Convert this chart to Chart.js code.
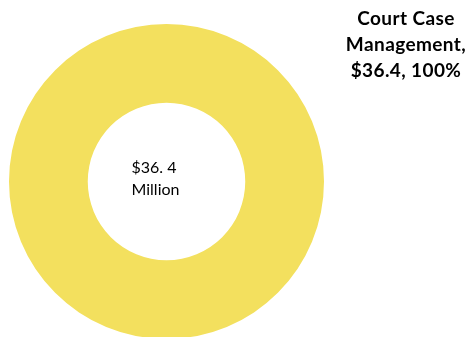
<!DOCTYPE html>
<html>
<head>
	<style type="text/css">
	body{
		margin: 0;
		overflow: hidden;
		background: #fff;
		font-family: Lato;
	}
	#wrap{
		position: relative;
		width: 470px;
		height: 340px;
	}
	</style>
    <title>Court Case Management</title>
    <script type="text/javascript" src="https://cdn.jsdelivr.net/npm/chart.js@4.4.0/dist/chart.umd.min.js"></script>
</head>
<body>
<div id="wrap"><canvas id="myChart"></canvas></div>
<script type="text/javascript">
    var categories = ['Court Case Management'];
    var values = [36.4];
    var colors = ['#F3E05E'];
    var labelLines = ['Court Case', 'Management,'];
    var centerLines = ['$36. 4', 'Million'];

    var total = 0;
    for (var i = 0; i < values.length; ++i) {
        total += values[i];
    }

    // draws the slice label at the top right and the total in the hole
    var textPlugin = {
        id: 'textPlugin',
        afterDraw: function (chart) {
            var ctx = chart.ctx;
            var arc = chart.getDatasetMeta(0).data[0];
            ctx.save();
            ctx.fillStyle = '#000';
            ctx.textBaseline = 'middle';

            ctx.font = 'bold 19px Lato';
            ctx.letterSpacing = '0.4px';
            ctx.textAlign = 'center';
            var pct = Math.round(values[0] / total * 100);
            var lines = labelLines.concat(['$' + values[0] + ', ' + pct + '%']);
            for (var i = 0; i < lines.length; ++i) {
                ctx.fillText(lines[i], 406, 19 + i * 26);
            }

            ctx.font = '16px Lato';
            ctx.letterSpacing = '0px';
            ctx.textAlign = 'left';
            for (var j = 0; j < centerLines.length; ++j) {
                ctx.fillText(centerLines[j], arc.x - 35, arc.y - 14 + j * 22);
            }
            ctx.restore();
        }
    };

    var chart = new Chart(document.getElementById('myChart').getContext('2d'), {
        type: 'doughnut',
        data: {
            labels: categories,
            datasets: [{
                data: values,
                backgroundColor: colors,
                borderWidth: 0
            }]
        },
        options: {
            responsive: true,
            maintainAspectRatio: false,
            animation: false,
            cutout: '50%',
            layout: {
                padding: { left: 9, top: 24, right: 146, bottom: 1 }
            },
            plugins: {
                legend: { display: false },
                tooltip: { enabled: false }
            }
        },
        plugins: [textPlugin]
    });
</script>
</body>
</html>
